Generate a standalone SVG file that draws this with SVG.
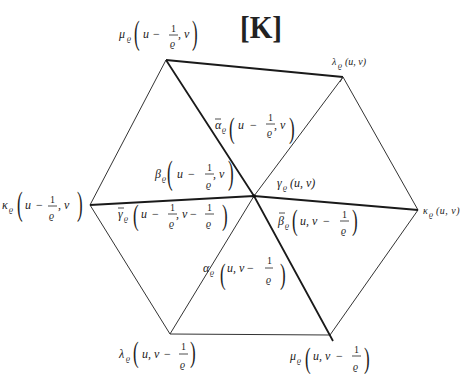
<svg xmlns="http://www.w3.org/2000/svg" width="475" height="379" viewBox="0 0 475 379">
<style>
text{font-family:"Liberation Serif","DejaVu Serif",serif;fill:#222}
.i{font-style:italic;font-size:12px}
.r{font-size:12px}
.s{font-style:italic;font-size:8px}
.f{font-size:10px}
.fi{font-style:italic;font-size:10px}
.p{font-size:20px}
.sm{font-style:italic;font-size:10px}
.bar{stroke:#222;stroke-width:0.8}
.thin{stroke:#333;stroke-width:1;fill:none}
.thick{stroke:#1a1a1a;stroke-width:1.8;fill:none}
</style>
<rect width="475" height="379" fill="#fff"/>
<g id="connectors">
<path class="thin" d="M343,77 L418,210 L330,335 M170,334 L90,205 L166,60"/>
<path class="thin" d="M170,334 L330,335"/>
<path class="thick" d="M166,60 L343,77"/>
<path class="thin" d="M343,77 L340,82"/>
<path class="thick" d="M90,205 L254,196 L418,210"/>
<path class="thick" d="M166,60 L254,196 L333,341"/>
<path class="thin" d="M343,77 L254,196 L170,334"/>
<circle cx="254" cy="196" r="1.8" fill="#111"/>
</g>
<g id="title"><text x="240" y="38" font-size="32" font-weight="bold" textLength="42" lengthAdjust="spacingAndGlyphs">[K]</text></g>
<g id="mu-top">
<text class="i" x="119" y="38">μ</text><text class="s" x="127" y="41">ϱ</text>
<text class="p" transform="translate(134,44) scale(0.85,1.65)">(</text>
<text class="i" x="143" y="38">u</text><text class="r" x="153" y="38">−</text>
<text class="f" x="171" y="32">1</text><line class="bar" x1="169" y1="35" x2="178" y2="35"/><text class="fi" x="170" y="47">ϱ</text>
<text class="i" x="178" y="38">, v</text>
<text class="p" transform="translate(192,44) scale(0.85,1.65)">)</text>
</g>
<g id="lambda-top"><text class="sm" x="332" y="65">λ</text><text class="s" x="338" y="68">ϱ</text><text class="sm" x="345" y="65">(u, v)</text></g>
<g id="kappa-left">
<text class="i" x="2" y="209">κ</text><text class="s" x="9" y="212">ϱ</text>
<text class="p" transform="translate(17,215) scale(0.85,1.65)">(</text>
<text class="i" x="25" y="209">u</text><text class="r" x="36" y="209">−</text>
<text class="f" x="50" y="203">1</text><line class="bar" x1="48" y1="206" x2="57" y2="206"/><text class="fi" x="49" y="219">ϱ</text>
<text class="i" x="58" y="209">, v</text>
<text class="p" transform="translate(77,215) scale(0.85,1.65)">)</text>
</g>
<g id="kappa-right"><text class="sm" x="423" y="214">κ</text><text class="s" x="429" y="217">ϱ</text><text class="sm" x="436" y="214" letter-spacing="0.5">(u, v)</text></g>
<g id="alpha-bar">
<text class="i" x="215" y="129">α</text><line class="bar" x1="215" y1="119" x2="221" y2="119"/><text class="s" x="222" y="132">ϱ</text>
<text class="p" transform="translate(229,138) scale(0.85,1.45)">(</text>
<text class="i" x="238" y="129">u</text><text class="r" x="250" y="129">−</text>
<text class="f" x="268" y="121">1</text><line class="bar" x1="266" y1="124" x2="275" y2="124"/><text class="fi" x="267" y="136">ϱ</text>
<text class="i" x="274" y="129">, v</text>
<text class="p" transform="translate(289,138) scale(0.85,1.45)">)</text>
</g>
<g id="beta">
<text class="i" x="155" y="178">β</text><text class="s" x="162" y="181">ϱ</text>
<text class="p" transform="translate(167,184) scale(0.85,1.65)">(</text>
<text class="i" x="177" y="178">u</text><text class="r" x="188" y="178">−</text>
<text class="f" x="207" y="171">1</text><line class="bar" x1="205" y1="174" x2="214" y2="174"/><text class="fi" x="206" y="188">ϱ</text>
<text class="i" x="213" y="178">, v</text>
<text class="p" transform="translate(228,184) scale(0.85,1.65)">)</text>
</g>
<g id="gamma"><text class="i" x="277" y="187">γ</text><text class="s" x="283" y="190">ϱ</text><text class="i" x="290" y="187">(u, v)</text></g>
<g id="gamma-bar">
<text class="i" x="118" y="218">γ</text><line class="bar" x1="118" y1="208" x2="124" y2="208"/><text class="s" x="124" y="221">ϱ</text>
<text class="p" transform="translate(133,225) scale(0.85,1.45)">(</text>
<text class="i" x="141" y="218">u</text><text class="r" x="152" y="218">−</text>
<text class="f" x="170" y="211">1</text><line class="bar" x1="168" y1="214" x2="177" y2="214"/><text class="fi" x="169" y="227">ϱ</text>
<text class="i" x="176" y="218">, v</text><text class="r" x="190" y="218">−</text>
<text class="f" x="207" y="211">1</text><line class="bar" x1="205" y1="214" x2="214" y2="214"/><text class="fi" x="206" y="227">ϱ</text>
<text class="p" transform="translate(222,225) scale(0.85,1.45)">)</text>
</g>
<g id="beta-bar">
<text class="i" x="278" y="225">β</text><line class="bar" x1="279" y1="213" x2="285" y2="213"/><text class="s" x="285" y="228">ϱ</text>
<text class="p" transform="translate(292,230) scale(0.85,1.45)">(</text>
<text class="i" x="300" y="225">u, v</text><text class="r" x="323" y="225">−</text>
<text class="f" x="342" y="218">1</text><line class="bar" x1="340" y1="221" x2="349" y2="221"/><text class="fi" x="341" y="234">ϱ</text>
<text class="p" transform="translate(352,230) scale(0.85,1.45)">)</text>
</g>
<g id="alpha">
<text class="i" x="203" y="272">α</text><text class="s" x="210" y="275">ϱ</text>
<text class="p" transform="translate(220,284) scale(0.85,1.45)">(</text>
<text class="i" x="227" y="272">u, v</text><text class="r" x="247" y="272">−</text>
<text class="f" x="267" y="264">1</text><line class="bar" x1="265" y1="268" x2="273" y2="268"/><text class="fi" x="266" y="283">ϱ</text>
<text class="p" transform="translate(280,284) scale(0.85,1.45)">)</text>
</g>
<g id="lambda-bottom">
<text class="i" x="119" y="358">λ</text><text class="s" x="126" y="361">ϱ</text>
<text class="p" transform="translate(133,362) scale(0.85,1.45)">(</text>
<text class="i" x="142" y="358">u, v</text><text class="r" x="164" y="358">−</text>
<text class="f" x="181" y="350">1</text><line class="bar" x1="179" y1="354" x2="188" y2="354"/><text class="fi" x="180" y="368">ϱ</text>
<text class="p" transform="translate(190,362) scale(0.85,1.45)">)</text>
</g>
<g id="mu-bottom">
<text class="i" x="290" y="360">μ</text><text class="s" x="297" y="363">ϱ</text>
<text class="p" transform="translate(305,368) scale(0.85,1.45)">(</text>
<text class="i" x="313" y="360">u, v</text><text class="r" x="336" y="360">−</text>
<text class="f" x="354" y="353">1</text><line class="bar" x1="352" y1="356" x2="361" y2="356"/><text class="fi" x="353" y="370">ϱ</text>
<text class="p" transform="translate(364,368) scale(0.85,1.45)">)</text>
</g>
</svg>
